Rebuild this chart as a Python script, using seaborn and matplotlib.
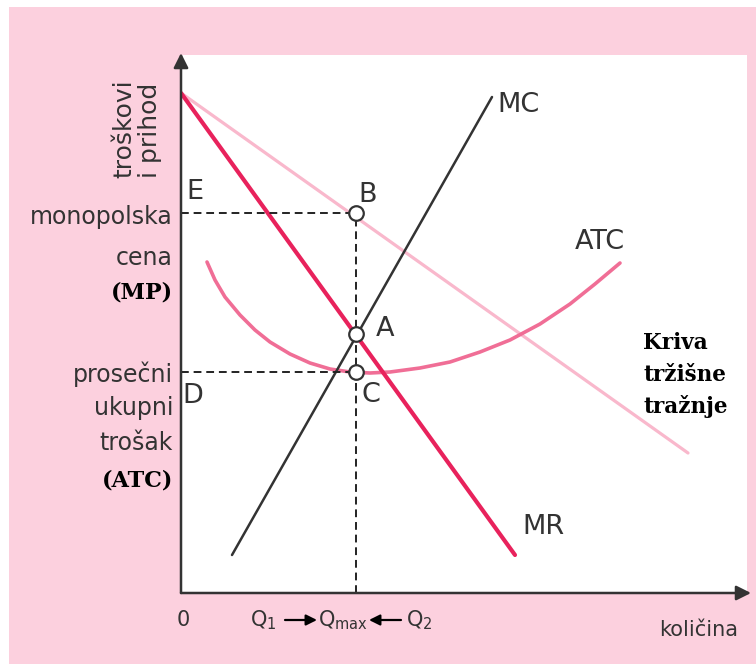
import matplotlib
matplotlib.use("Agg")
import matplotlib.pyplot as plt
import seaborn as sns
from matplotlib.patches import Rectangle

# -------------------------------
# Curve data (quantity, price)
# -------------------------------

demand_q = [0, 507]
demand_p = [500, 140]

mr_q = [0, 334]
mr_p = [500, 38]

mc_q = [51, 311]
mc_p = [38, 496]

atc_q = [26, 34, 44, 59, 74, 89, 109, 129, 149, 169, 189, 209, 239, 269, 299, 329, 359, 389, 414, 439]
atc_p = [331, 313, 296, 278, 263, 251, 239, 230, 224, 221, 220, 221, 225, 231, 241, 253, 269, 289, 309, 330]

q_max = 175
point_names = ["B", "A", "C"]
point_p = [380, 259, 221]
mono_price = 380
atc_price = 221

sns.set_theme(style="white")
plt.rcParams["font.family"] = ["DejaVu Sans"]
plt.rcParams["mathtext.fontset"] = "dejavusans"

pink_bg = "#fcd0de"
demand_col = "#f9b8cc"
mr_col = "#e8225c"
atc_col = "#f06e96"
ink = "#333333"

fig = plt.figure(figsize=(7.56, 6.64), dpi=100)
fig.patch.set_facecolor("white")
fig.patches.append(Rectangle((9 / 756, 0), 1, 657 / 664, transform=fig.transFigure,
                             facecolor=pink_bg, edgecolor="none", zorder=-10))

ax = fig.add_axes([181 / 756, 71 / 664, 566 / 756, 538 / 664])
ax.set_facecolor("white")
ax.set_xlim(0, 566)
ax.set_ylim(0, 538)
for s in ax.spines.values():
    s.set_visible(False)
ax.set_xticks([])
ax.set_yticks([])

# -------------------------------
# Curves
# -------------------------------

sns.lineplot(x=demand_q, y=demand_p, color=demand_col, lw=2.3, ax=ax, sort=False)
sns.lineplot(x=atc_q, y=atc_p, color=atc_col, lw=2.6, ax=ax, sort=False)
sns.lineplot(x=mc_q, y=mc_p, color=ink, lw=1.8, ax=ax, sort=False)
sns.lineplot(x=mr_q, y=mr_p, color=mr_col, lw=3.0, ax=ax, sort=False)

# dashed guides
dash = dict(color="#222222", lw=1.4, ls=(0, (4, 2.5)))
ax.plot([0, q_max], [mono_price, mono_price], **dash)
ax.plot([0, q_max], [atc_price, atc_price], **dash)
ax.plot([q_max, q_max], [0, mono_price], **dash)

sns.scatterplot(x=[q_max] * 3, y=point_p, s=110, color="white", edgecolor=ink,
                linewidth=1.6, ax=ax, zorder=5)

# axes arrows
arrow = dict(arrowstyle="-|>", mutation_scale=22, lw=1.8, color=ink, shrinkA=0, shrinkB=0)
ax.annotate("", xy=(0, 540), xytext=(0, 0), arrowprops=arrow, annotation_clip=False)
ax.annotate("", xy=(570, 0), xytext=(0, 0), arrowprops=arrow, annotation_clip=False)

# -------------------------------
# Labels
# -------------------------------

lbl = dict(fontsize=19.5, color=ink, va="center")
ax.text(14, 401, "E", ha="center", **lbl)
ax.text(187, 398, "B", ha="center", **lbl)
ax.text(204, 264, "A", ha="center", **lbl)
ax.text(190, 198, "C", ha="center", **lbl)
ax.text(12, 197, "D", ha="center", **lbl)
ax.text(316, 488, "MC", ha="left", **lbl)
ax.text(394, 351, "ATC", ha="left", **lbl)
ax.text(341, 66, "MR", ha="left", **lbl)

side = dict(fontsize=17, color=ink, ha="right", va="center", clip_on=False)
ax.text(-8, 376, "monopolska", **side)
ax.text(-8, 335, "cena", **side)
ax.text(-8, 219, "prosečni", **side)
ax.text(-8, 185, "ukupni", **side)
ax.text(-8, 150, "trošak", **side)
bold = dict(fontsize=16, color="black", ha="right", va="center", family="DejaVu Serif",
            fontweight="bold", clip_on=False)
ax.text(-8, 300, "(MP)", **bold)
ax.text(-8, 113, "(ATC)", **bold)

for txt, y in zip(["Kriva", "tržišne", "tražnje"], [250, 218, 186]):
    ax.text(462, y, txt, fontsize=15.5, color="black", family="DejaVu Serif",
            fontweight="bold", ha="left", va="center")

ax.text(-44, 415, "troškovi\ni prihod", rotation=90, fontsize=18, color=ink,
        ha="center", va="bottom", multialignment="left", linespacing=1.1, clip_on=False)

xl = dict(fontsize=15, color=ink, va="center", ha="center", clip_on=False)
ax.text(2, -27, "0", **xl)
ax.text(82, -27, "Q$_1$", **xl)
ax.text(162, -27, "Q$_{\\mathrm{max}}$", **xl)
ax.text(238, -27, "Q$_2$", **xl)
ax.text(518, -37, "količina", **xl)
small_arrow = dict(arrowstyle="-|>", mutation_scale=16, lw=1.6, color="black", shrinkA=0, shrinkB=0)
ax.annotate("", xy=(136, -27), xytext=(104, -27), arrowprops=small_arrow, annotation_clip=False)
ax.annotate("", xy=(188, -27), xytext=(220, -27), arrowprops=small_arrow, annotation_clip=False)

fig.savefig("out.png", dpi=100, facecolor=fig.get_facecolor())
